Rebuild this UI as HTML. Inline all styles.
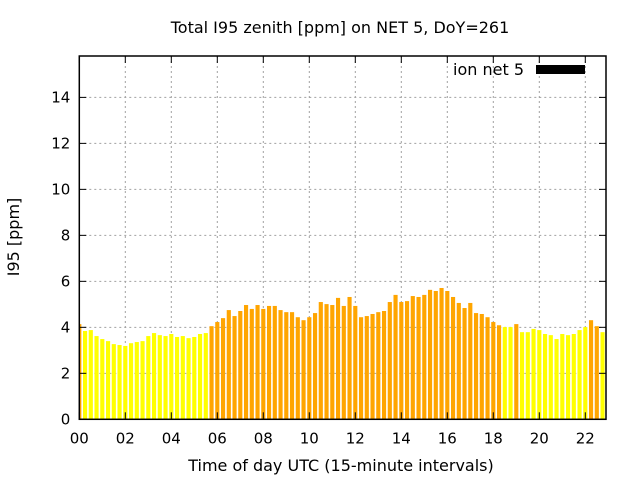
<!DOCTYPE html>
<html><head><meta charset="utf-8"><style>
body{margin:0;background:#fff;}
svg text{font-family:"DejaVu Sans",sans-serif;}
</style></head><body>
<svg id="chart" width="640" height="480" xmlns="http://www.w3.org/2000/svg">
<rect width="640" height="480" fill="#fff"/>
<text x="340" y="33" font-size="16" text-anchor="middle">Total I95 zenith [ppm] on NET 5, DoY=261</text>
<text transform="translate(19,237) rotate(-90)" font-size="16" text-anchor="middle">I95 [ppm]</text>
<text x="341" y="471" font-size="16" text-anchor="middle">Time of day UTC (15-minute intervals)</text>
<g id="grid"></g>
<g id="bars"></g>
<g id="axes"></g>
<g>
<text x="524" y="75" font-size="16" text-anchor="end">ion net 5</text>
<rect x="536" y="65" width="49" height="9" fill="#000"/>
</g>
</svg>
<script>
const values=[4.14,3.84,3.88,3.62,3.49,3.40,3.27,3.23,3.19,3.31,3.36,3.40,3.62,3.75,3.66,3.62,3.71,3.58,3.62,3.53,3.58,3.71,3.75,
4.05,4.23,4.40,4.75,4.49,4.71,4.97,4.80,4.97,4.80,4.93,4.93,4.75,4.66,4.66,4.44,4.31,4.44,4.62,5.10,5.01,4.97,5.28,4.93,
5.32,4.93,4.44,4.49,4.58,4.66,4.71,5.10,5.41,5.10,5.14,5.36,5.32,5.41,5.63,5.58,5.71,5.58,5.32,5.06,4.84,5.06,4.62,4.58,4.44,4.23,4.09,
4.01,4.01,4.14,3.79,3.79,3.93,3.88,3.71,3.66,3.49,3.71,3.66,3.71,3.88,4.01,4.31,4.05,3.79,3.66];
const yTicks=[0,2,4,6,8,10,12,14];
const xTickLabels=["00","02","04","06","08","10","12","14","16","18","20","22"];
const xTickHours=[0,2,4,6,8,10,12,14,16,18,20,22];
const threshold=4.03;
const L=79.3,R=606,T=56,B=419.3,YMAX=15.8,XMAX=(606-79.3)/23;
const NS="http://www.w3.org/2000/svg";
const xs=h=>L+(R-L)*h/XMAX;
const ys=v=>B-(B-T)*v/YMAX;
function mk(tag,attrs,parent){const e=document.createElementNS(NS,tag);for(const k in attrs)e.setAttribute(k,attrs[k]);parent.appendChild(e);return e;}
const grid=document.getElementById('grid'),bars=document.getElementById('bars'),axes=document.getElementById('axes');
yTicks.forEach(v=>{if(v>0){const g=mk('line',{x1:L,x2:R,y1:ys(v),y2:ys(v),stroke:'#a0a0a0','stroke-dasharray':'2,3'},grid);

}
const t=mk('text',{x:L-9,y:ys(v)+5,'font-size':15,'text-anchor':'end'},axes);t.textContent=v;


mk('line',{x1:L,x2:L+7,y1:ys(v),y2:ys(v),stroke:'#000'},axes);
mk('line',{x1:R-7,x2:R,y1:ys(v),y2:ys(v),stroke:'#000'},axes);});
xTickHours.forEach((h,i)=>{const x=xs(h);if(h>0){const g=mk('line',{x1:x,x2:x,y1:T,y2:B,stroke:'#a0a0a0','stroke-dasharray':'2,3'},grid);

}
const t=mk('text',{x:x,y:B+24,'font-size':15,'text-anchor':'middle'},axes);t.textContent=xTickLabels[i];


mk('line',{x1:x,x2:x,y1:B,y2:B-7,stroke:'#000'},axes);
mk('line',{x1:x,x2:x,y1:T,y2:T+7,stroke:'#000'},axes);});
const cp=mk('clipPath',{id:'pc'},bars);mk('rect',{x:L,y:T,width:R-L,height:B-T},cp);
bars.setAttribute('clip-path','url(#pc)');
const bw=(xs(0.25)-xs(0))*0.72;
values.forEach((v,i)=>{const x=xs(i*0.25);
const r=mk('rect',{x:x-bw/2,y:ys(v),width:bw,height:B-ys(v),fill:v>threshold?'#ffa500':'#ffff00'},bars);

});
const f=mk('rect',{x:L,y:T,width:R-L,height:B-T,fill:'none',stroke:'#000','stroke-width':1.5},axes);


</script>
</body></html>
